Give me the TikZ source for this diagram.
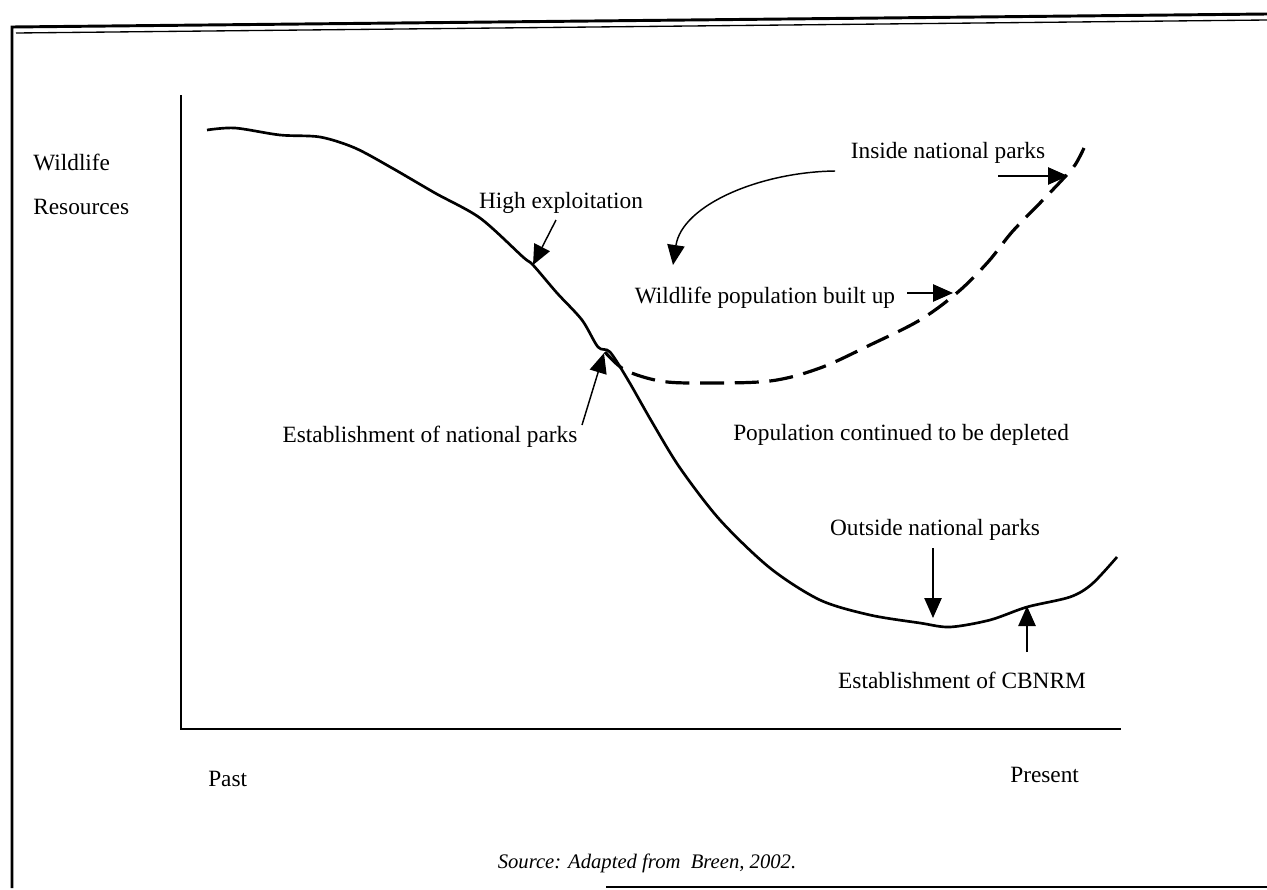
\documentclass[tikz,border=0pt]{standalone}
\usepackage{fontspec}
\setmainfont{Liberation Serif}
\usetikzlibrary{arrows.meta}
\begin{document}
\begin{tikzpicture}[x=0.75pt,y=-0.75pt,
  lbl/.style={font=\fontsize{17.5}{21}\selectfont, inner sep=0pt},
  pt/.style={-{Triangle[length=15pt,width=13pt]}, line width=1.1pt},
  curve/.style={line width=2pt, line join=round},
  dcurve/.style={line width=2.4pt, dash pattern=on 18pt off 8pt}]
\useasboundingbox (0,0) rectangle (1267,889);
% frame
\draw[line width=2.2pt] (12,888) -- (12,27) -- (1267,14);
\draw[line width=1pt] (16,33) -- (1267,20);
\draw[line width=2.2pt] (606,887) -- (1267,887);
% axes
\coordinate (ytop) at (181,95);
\coordinate (orig) at (181,729);
\coordinate (xend) at (1121,729);
\draw[line width=1.3pt] (ytop) -- (orig) -- (xend);
% solid curve
\draw[curve] plot[smooth, tension=0.5] coordinates {(207,130) (235,128) (280,135) (320,137) (355,148) (392,168) (435,193) (480,218) (523,257) (533,265) (557,293) (582,320) (598,347) (610,352) (628,380) (652,422) (680,468) (720,520) (770,568) (820,600) (870,615) (920,623) (950,627) (990,620) (1027,607) (1070,597) (1092,584) (1117,557)};
% dashed curve
\draw[dcurve] plot[smooth, tension=0.55] coordinates {(605,352) (625,370) (660,381) (700,383) (770,381) (820,368) (870,345) (920,320) (958,292) (988,262) (1012,232) (1040,203) (1062,180) (1075,165) (1084,148)};
% labels
\node[lbl, anchor=west] (wl) at (33,162) {Wildlife};
\node[lbl, anchor=west] (rs) at (33,207) {Resources};
\node[lbl] (he) at (561,203) {High exploitation};
\node[lbl] (inp) at (948,153) {Inside national parks};
\node[lbl] (wpb) at (765,298) {Wildlife population built up};
\node[lbl] (enp) at (430,437) {Establishment of national parks};
\node[lbl, anchor=west] (pcd) at (733,435) {Population continued to be depleted};
\node[lbl] (onp) at (935,530) {Outside national parks};
\node[lbl] (ecb) at (962,680) {Establishment of CBNRM};
\node[lbl, anchor=west] (past) at (208,779) {Past};
\node[lbl, anchor=west] (pres) at (1010,775) {Present};
\node[font=\fontsize{15.5}{18}\selectfont\itshape, inner sep=0pt] (src) at (647,863) {Source: Adapted from\ \ Breen, 2002.};
% arrow ends
\coordinate (sHE) at (556,220);   \coordinate (tHE) at (533,265);
\coordinate (sCurv) at (835,171); \coordinate (tCurv) at (673,265);
\coordinate (sINP) at (998,176);  \coordinate (tINP) at (1068,176);
\coordinate (sWPB) at (907,293);  \coordinate (tWPB) at (953,293);
\coordinate (sENP) at (582,425);  \coordinate (tENP) at (604,353);
\coordinate (sONP) at (933,548);  \coordinate (tONP) at (933,618);
\coordinate (sECB) at (1027,652); \coordinate (tECB) at (1027,606);
% arrows
\draw[pt] (sHE) -- (tHE);
\draw[pt] (sCurv) .. controls (760,172) and (682,205) .. (tCurv);
\draw[pt] (sINP) -- (tINP);
\draw[pt] (sWPB) -- (tWPB);
\draw[pt] (sENP) -- (tENP);
\draw[pt] (sONP) -- (tONP);
\draw[pt] (sECB) -- (tECB);
\end{tikzpicture}
\end{document}
